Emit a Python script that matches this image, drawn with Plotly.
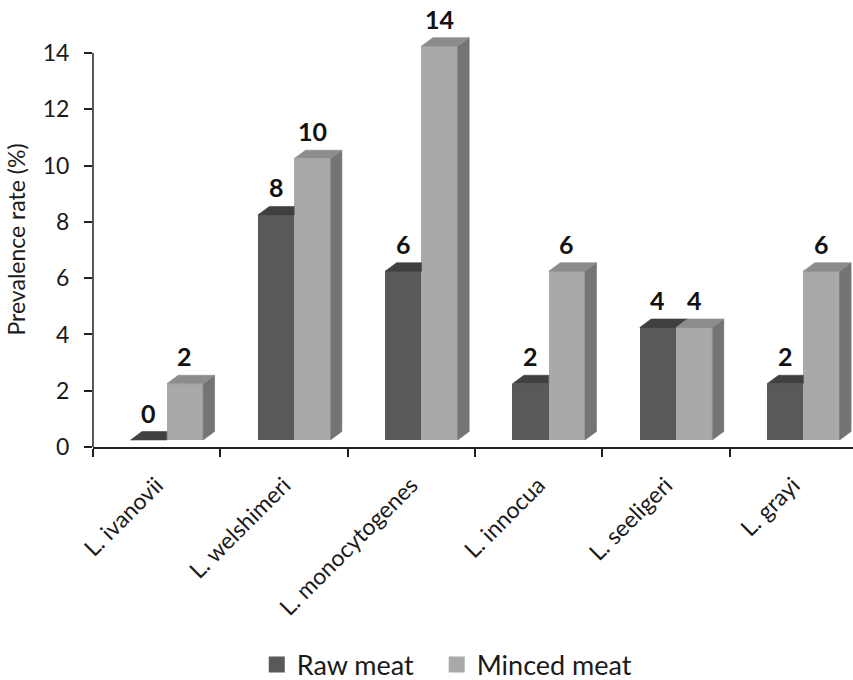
import plotly.graph_objects as go

categories = ["L. ivanovii", "L. welshimeri", "L. monocytogenes", "L. innocua", "L. seeligeri", "L. grayi"]
raw_meat = [0, 8, 6, 2, 4, 2]
minced_meat = [2, 10, 14, 6, 4, 6]
y_ticks = [0, 2, 4, 6, 8, 10, 12, 14]
series_names = ["Raw meat", "Minced meat"]

# 3D look geometry (data units)
BASE = 0.25
W = 0.285
OFF_RAW = -0.205
OFF_MIN = 0.08
DX = 0.09
DY = 0.30

RAW_FRONT = "#595959"
RAW_TOP = "#404040"
MIN_FRONT = "#a9a9a9"
MIN_TOP = "#8c8c8c"
MIN_SIDE = "#747474"
FONT = "Lato"

xs = list(range(len(categories)))
fig = go.Figure()

fig.add_trace(go.Bar(x=xs, y=raw_meat, base=BASE, offset=OFF_RAW, width=W,
                     marker=dict(color=RAW_FRONT, line=dict(width=0)), name=series_names[0],
                     showlegend=False))
fig.add_trace(go.Bar(x=xs, y=minced_meat, base=BASE, offset=OFF_MIN, width=W,
                     marker=dict(color=MIN_FRONT, line=dict(width=0)), name=series_names[1],
                     showlegend=False))


def poly(px, py, color):
    fig.add_trace(go.Scatter(x=px, y=py, mode="lines", fill="toself", fillcolor=color,
                             line=dict(color=color, width=0.6), hoverinfo="skip",
                             showlegend=False))


for i, (r, m) in enumerate(zip(raw_meat, minced_meat)):
    x0 = i + OFF_RAW
    x1 = x0 + W
    t = r + BASE
    tm = m + BASE
    if tm >= t + DY:
        poly([x0, x1, x1, x0 + DX, x0], [t, t, t + DY, t + DY, t], RAW_TOP)
    else:
        poly([x0, x1, x1 + DX, x0 + DX, x0], [t, t, t + DY, t + DY, t], RAW_TOP)
    mx0 = i + OFF_MIN
    mx1 = mx0 + W
    poly([mx1, mx1, mx1 + DX, mx1 + DX, mx1], [BASE, tm, tm + DY, BASE + DY, BASE], MIN_SIDE)
    poly([mx0, mx1, mx1 + DX, mx0 + DX, mx0], [tm, tm, tm + DY, tm + DY, tm], MIN_TOP)
    fig.add_annotation(x=x0 + W / 2, y=t + DY, text=str(r), showarrow=False,
                       yanchor="bottom", yshift=2,
                       font=dict(family=FONT, size=25, color="#111111", weight="bold"))
    fig.add_annotation(x=mx0 + W / 2, y=tm + DY, text=str(m), showarrow=False,
                       yanchor="bottom", yshift=2,
                       font=dict(family=FONT, size=25, color="#111111", weight="bold"))

# legend entries (square swatches), one legend per series for spacing
for name, col, lg in zip(series_names, [RAW_FRONT, MIN_FRONT], ["legend", "legend2"]):
    fig.add_trace(go.Scatter(x=[None], y=[None], mode="markers", name=name, legend=lg,
                             marker=dict(symbol="square", size=17, color=col)))

# y axis line only up to 14
fig.add_shape(type="line", xref="paper", yref="y", x0=0, x1=0, y0=0, y1=max(y_ticks),
              line=dict(color="#222222", width=1.5))

legend_common = dict(orientation="h", xref="container", yref="container", y=0.022,
                     xanchor="left", yanchor="middle", font=dict(size=27),
                     itemsizing="trace", itemwidth=30, bgcolor="rgba(0,0,0,0)")

fig.update_layout(
    width=853, height=680,
    margin=dict(l=93, r=0, t=32, b=233),
    plot_bgcolor="white", paper_bgcolor="white",
    font=dict(family=FONT, color="#1a1a1a"),
    bargap=0,
    showlegend=True,
    legend=dict(x=0.301, **legend_common),
    legend2=dict(x=0.512, **legend_common),
    xaxis=dict(range=[-0.5, 5.47], tickmode="array", tickvals=xs, ticktext=categories,
               tickangle=-45, ticks="", showline=True, linecolor="#222222", linewidth=1.5,
               showgrid=False, zeroline=False, tickfont=dict(size=23), ticklabelstandoff=14,
               minor=dict(tickmode="linear", tick0=-0.5, dtick=1, ticks="outside",
                          ticklen=8, tickwidth=1.5, tickcolor="#222222", showgrid=False)),
    yaxis=dict(range=[0, 14.75], tickmode="array", tickvals=y_ticks, ticks="outside",
               ticklen=8, tickwidth=1.5, tickcolor="#222222", showline=False,
               showgrid=False, zeroline=False, tickfont=dict(size=23),
               ticklabelstandoff=10,
               title=dict(text="Prevalence rate (%)", font=dict(size=23), standoff=10)),
)

fig.write_html("out.html")
